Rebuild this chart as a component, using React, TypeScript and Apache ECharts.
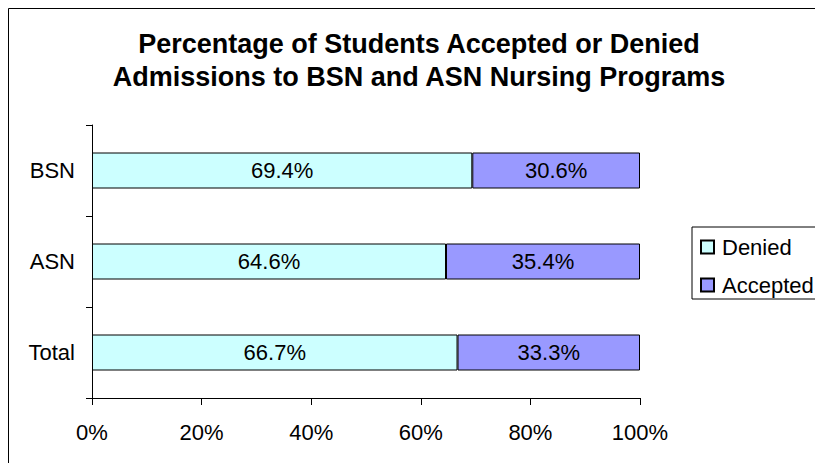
import React, { useEffect, useRef } from "react";
import * as echarts from "echarts";

const categories = ["Total", "ASN", "BSN"];
const deniedValues = [66.7, 64.6, 69.4];
const acceptedValues = [33.3, 35.4, 30.6];
const seriesNames = ["Denied", "Accepted"];
const titleText = "Percentage of Students Accepted or Denied\nAdmissions to BSN and ASN Nursing Programs";

const FONT = "'Liberation Sans', Arial, sans-serif";

export default function App() {
  const ref = useRef<HTMLDivElement>(null);
  useEffect(() => {
    if (!ref.current) return;
    const chart = echarts.init(ref.current, null, { renderer: "svg" });
    const labelStyle = {
      show: true,
      position: "inside" as const,
      color: "#000",
      fontSize: 22,
      fontFamily: FONT,
      formatter: (p: any) => Number(p.value).toFixed(1) + "%",
    };
    chart.setOption({
      animation: false,
      backgroundColor: "#fff",
      textStyle: { fontFamily: FONT },
      title: {
        text: titleText,
        left: 406,
        textAlign: "center",
        top: 14,
        textStyle: {
          fontSize: 27,
          fontWeight: "bold",
          color: "#000",
          fontFamily: FONT,
          lineHeight: 33,
        },
      },
      legend: {
        orient: "vertical",
        left: 684,
        top: 219,
        padding: [9, 40, 3, 8],
        borderColor: "#000",
        borderWidth: 1,
        itemWidth: 13,
        itemHeight: 13,
        itemGap: 16,
        icon: "rect",
        data: seriesNames,
        textStyle: {
          fontSize: 22,
          color: "#000",
          fontFamily: FONT,
          lineHeight: 22,
          padding: [0, 0, 0, 3],
        },
      },
      grid: { left: 84, top: 117, width: 548, height: 273 },
      xAxis: {
        type: "value",
        min: 0,
        max: 100,
        interval: 20,
        axisLine: { show: true, lineStyle: { color: "#000", width: 1 } },
        axisTick: { show: true, length: 7, lineStyle: { color: "#000" } },
        splitLine: { show: false },
        axisLabel: {
          formatter: "{value}%",
          fontSize: 22,
          color: "#000",
          fontFamily: FONT,
          margin: 23,
        },
      },
      yAxis: {
        type: "category",
        data: categories,
        axisLine: { show: true, lineStyle: { color: "#000", width: 1 } },
        axisTick: { show: true, length: 6, lineStyle: { color: "#000" } },
        axisLabel: {
          fontSize: 22,
          color: "#000",
          fontFamily: FONT,
          margin: 17,
        },
      },
      graphic: [
        {
          type: "rect",
          shape: { x: 0.5, y: 0.5, width: 1000, height: 1000 },
          style: { fill: "none", stroke: "#000", lineWidth: 1 },
          silent: true,
          z: 100,
        },
      ],
      series: [
        {
          name: seriesNames[0],
          type: "bar",
          stack: "total",
          barWidth: 36,
          data: deniedValues,
          itemStyle: { color: "#CCFFFF", borderColor: "#000", borderWidth: 1 },
          label: labelStyle,
        },
        {
          name: seriesNames[1],
          type: "bar",
          stack: "total",
          barWidth: 36,
          data: acceptedValues,
          itemStyle: { color: "#9999FF", borderColor: "#000", borderWidth: 1 },
          label: labelStyle,
        },
      ],
    });
    return () => chart.dispose();
  }, []);
  return (
    <div style={{ position: "fixed", left: 8, top: 8, width: 807, height: 455, overflow: "hidden" }}>
      <div ref={ref} style={{ width: 860, height: 480 }} />
    </div>
  );
}
